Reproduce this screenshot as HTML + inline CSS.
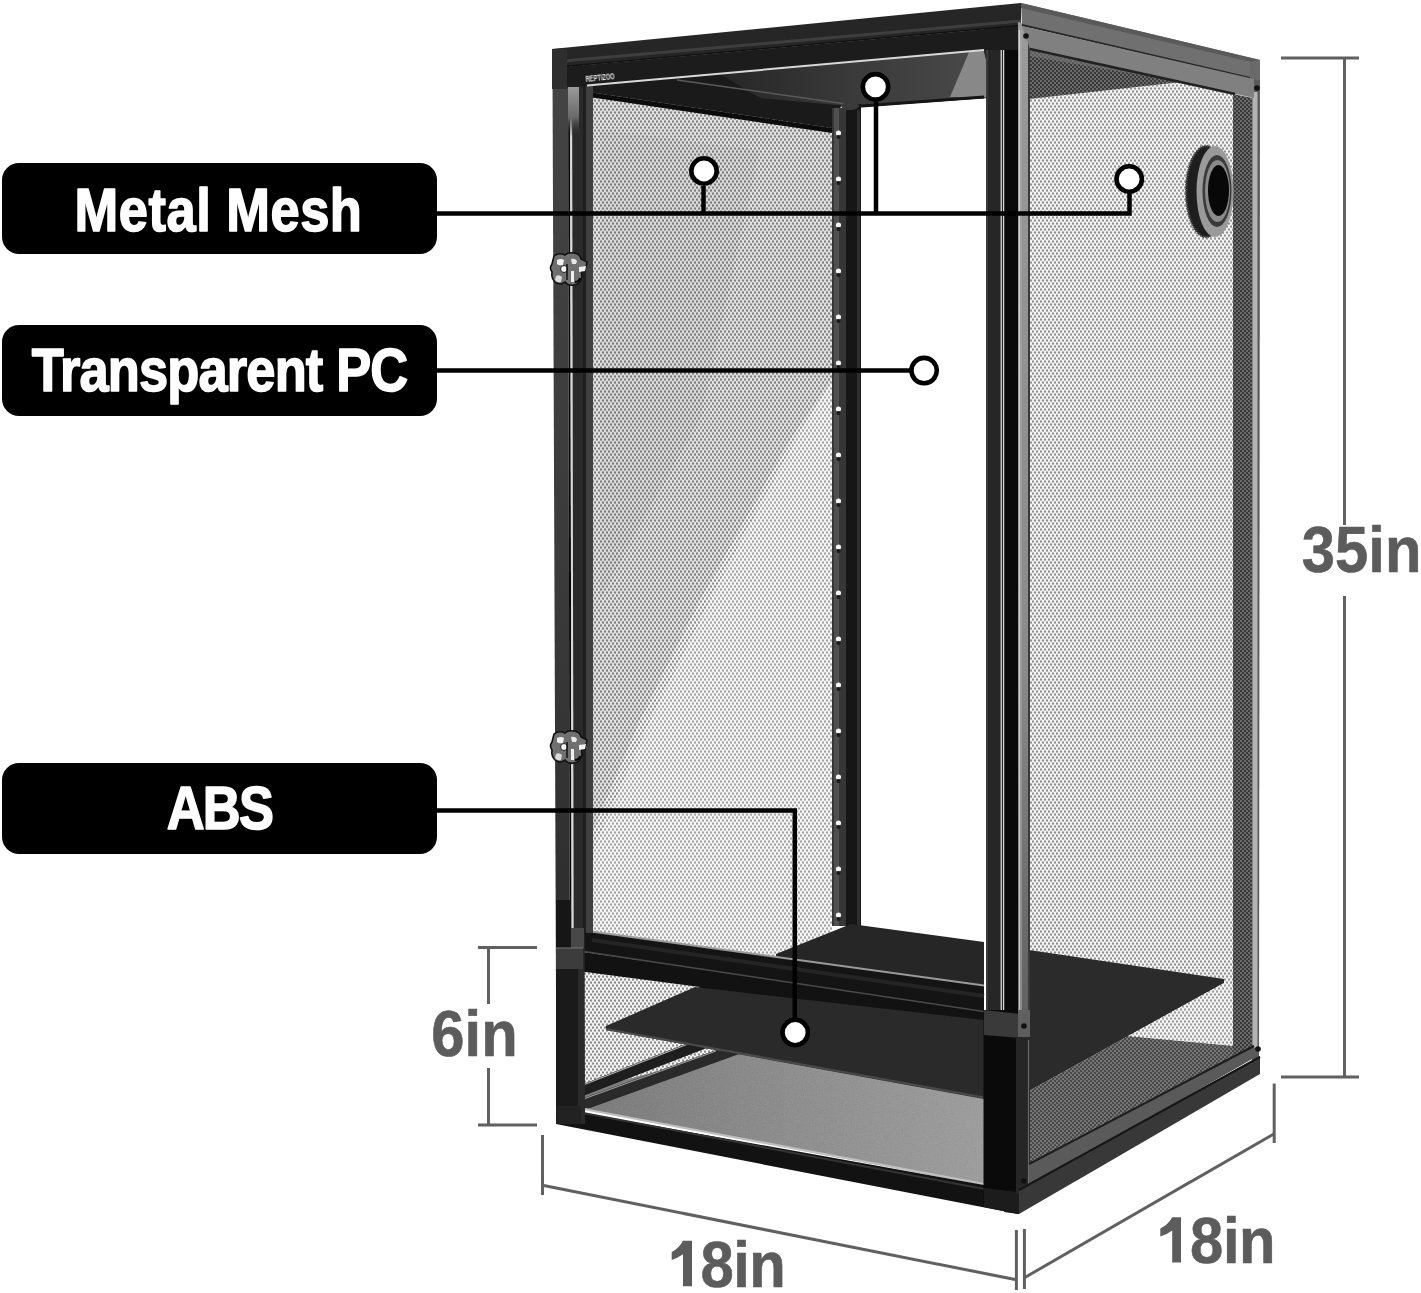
<!DOCTYPE html>
<html><head><meta charset="utf-8">
<style>
html,body{margin:0;padding:0;background:#fff;}
body{width:1421px;height:1293px;position:relative;overflow:hidden;font-family:"Liberation Sans",sans-serif;}
svg{position:absolute;left:0;top:0;}
</style></head>
<body>
<svg width="1421" height="1293" viewBox="0 0 1421 1293">
<defs>
  <pattern id="mesh" width="4" height="6" patternUnits="userSpaceOnUse">
    <rect width="4" height="6" fill="#f4f4f4"/>
    <ellipse cx="1" cy="1.5" rx="1.1" ry="1.35" fill="#8a8a8a"/>
    <ellipse cx="3" cy="4.5" rx="1.1" ry="1.35" fill="#8a8a8a"/>
  </pattern>
  <pattern id="meshD" width="4" height="4" patternUnits="userSpaceOnUse">
    <rect width="4" height="4" fill="#3a3a3a"/>
    <rect x="0" y="0" width="2" height="2" fill="#6a6a6a"/>
    <rect x="2" y="2" width="2" height="2" fill="#6a6a6a"/>
  </pattern>
</defs>
<rect width="1421" height="1293" fill="#fff"/>

<!-- TERRARIUM -->
<g id="terr">
<polygon points="589,88 832,125 832,962 589,962" fill="url(#mesh)"/>
<polygon points="589,88 832,125 832,380 790,440 700,600 640,720 589,840" fill="#000" opacity="0.07"/>
<polygon points="600,130 760,150 700,420 620,560 600,600" fill="#000" opacity="0.03"/>
<polygon points="832,380 832,962 589,962 589,860 650,720 720,580 790,450" fill="#fff" opacity="0.22"/>
<polygon points="587,85 987,50 987,98 860,107 842,104 832,128 589,92" fill="#1a1a1a"/>
<defs><linearGradient id="ceilg" x1="0" x2="1" y1="0" y2="0"><stop offset="0" stop-color="#262626"/><stop offset="0.55" stop-color="#3c3c3c"/><stop offset="1" stop-color="#4a4a4a"/></linearGradient></defs>
<polygon points="720,74 987,50 987,98 860,107 760,98" fill="url(#ceilg)"/>
<polygon points="969,52 987,50 987,97 950,97" fill="#888"/>
<line x1="848" y1="107" x2="984" y2="97" stroke="#151515" stroke-width="3"/>
<line x1="677" y1="80" x2="846" y2="104" stroke="#5a5a5a" stroke-width="1.5"/>
<polygon points="589,92 832,128 832,133 589,97" fill="#0c0c0c"/>
<rect x="832" y="108" width="14" height="818" fill="#363636"/>
<rect x="834" y="108" width="5" height="818" fill="#5a5a5a" opacity="0.7"/>
<rect x="846" y="104" width="15" height="822" fill="#161616"/>
<rect x="857" y="110" width="3" height="816" fill="#2e2e2e"/>
<ellipse cx="850" cy="106" rx="9" ry="4" fill="#3a3a3a"/>
<circle cx="838.5" cy="133" r="2.6" fill="#f4f4f4"/>
<circle cx="838.5" cy="137" r="2" fill="#1a1a1a"/>
<circle cx="838.5" cy="179" r="2.6" fill="#f4f4f4"/>
<circle cx="838.5" cy="183" r="2" fill="#1a1a1a"/>
<circle cx="838.5" cy="225" r="2.6" fill="#f4f4f4"/>
<circle cx="838.5" cy="229" r="2" fill="#1a1a1a"/>
<circle cx="838.5" cy="271" r="2.6" fill="#f4f4f4"/>
<circle cx="838.5" cy="275" r="2" fill="#1a1a1a"/>
<circle cx="838.5" cy="317" r="2.6" fill="#f4f4f4"/>
<circle cx="838.5" cy="321" r="2" fill="#1a1a1a"/>
<circle cx="838.5" cy="363" r="2.6" fill="#f4f4f4"/>
<circle cx="838.5" cy="367" r="2" fill="#1a1a1a"/>
<circle cx="838.5" cy="409" r="2.6" fill="#f4f4f4"/>
<circle cx="838.5" cy="413" r="2" fill="#1a1a1a"/>
<circle cx="838.5" cy="455" r="2.6" fill="#f4f4f4"/>
<circle cx="838.5" cy="459" r="2" fill="#1a1a1a"/>
<circle cx="838.5" cy="501" r="2.6" fill="#f4f4f4"/>
<circle cx="838.5" cy="505" r="2" fill="#1a1a1a"/>
<circle cx="838.5" cy="547" r="2.6" fill="#f4f4f4"/>
<circle cx="838.5" cy="551" r="2" fill="#1a1a1a"/>
<circle cx="838.5" cy="593" r="2.6" fill="#f4f4f4"/>
<circle cx="838.5" cy="597" r="2" fill="#1a1a1a"/>
<circle cx="838.5" cy="639" r="2.6" fill="#f4f4f4"/>
<circle cx="838.5" cy="643" r="2" fill="#1a1a1a"/>
<circle cx="838.5" cy="685" r="2.6" fill="#f4f4f4"/>
<circle cx="838.5" cy="689" r="2" fill="#1a1a1a"/>
<circle cx="838.5" cy="731" r="2.6" fill="#f4f4f4"/>
<circle cx="838.5" cy="735" r="2" fill="#1a1a1a"/>
<circle cx="838.5" cy="777" r="2.6" fill="#f4f4f4"/>
<circle cx="838.5" cy="781" r="2" fill="#1a1a1a"/>
<circle cx="838.5" cy="823" r="2.6" fill="#f4f4f4"/>
<circle cx="838.5" cy="827" r="2" fill="#1a1a1a"/>
<circle cx="838.5" cy="869" r="2.6" fill="#f4f4f4"/>
<circle cx="838.5" cy="873" r="2" fill="#1a1a1a"/>
<circle cx="838.5" cy="915" r="2.6" fill="#f4f4f4"/>
<circle cx="838.5" cy="919" r="2" fill="#1a1a1a"/>
<polygon points="776,954 851,924 984,942 984,995 776,995" fill="#262626"/>
<polygon points="578,930 984,985 984,1012 578,951" fill="#141414"/>
<line x1="584" y1="930.4" x2="984" y2="985.5" stroke="#9a9a9a" stroke-width="2"/>
<line x1="592" y1="940" x2="984" y2="996" stroke="#242424" stroke-width="4"/>
<polygon points="556,948 984,1010 1019,1014 1019,1037 984,1030 556,969" fill="#121212"/>
<line x1="584" y1="951.5" x2="984" y2="1011.5" stroke="#4a4a4a" stroke-width="1.5"/>
<defs><filter id="noise" x="0" y="0" width="100%" height="100%"><feTurbulence type="fractalNoise" baseFrequency="0.9" numOctaves="2" seed="3"/><feColorMatrix type="saturate" values="0"/><feComponentTransfer><feFuncA type="table" tableValues="0 0.35"/></feComponentTransfer><feComposite in2="SourceGraphic" operator="in"/></filter></defs>
<defs><linearGradient id="subg" x1="0" x2="1" y1="0" y2="0"><stop offset="0" stop-color="#747474"/><stop offset="0.5" stop-color="#888"/><stop offset="1" stop-color="#9a9a9a"/></linearGradient></defs>
<polygon points="578,1040 740,1052 984,1096 984,1185 578,1108" fill="url(#subg)"/>
<polygon points="578,1040 740,1052 984,1096 984,1185 578,1108" fill="#fff" filter="url(#noise)" opacity="0.6"/>
<polygon points="578,971 700,987 606,1027 700,1040 740,1050 578,1092" fill="url(#mesh)"/>
<polygon points="578,1086 688,1043 712,1046 578,1098" fill="#1e1e1e"/>
<polygon points="578,1100 716,1050 742,1053 590,1108 578,1108" fill="#2a2a2a"/>
<line x1="578" y1="1087" x2="688" y2="1044" stroke="#b0b0b0" stroke-width="1.2"/>
<line x1="578" y1="1101" x2="716" y2="1051" stroke="#9a9a9a" stroke-width="1.2"/>
<polygon points="606,1026 695,987 984,1020 984,1099 606,1030" fill="#2a2a2a"/>
<line x1="606" y1="1029" x2="984" y2="1097.5" stroke="#4a4a4a" stroke-width="2"/>
<line x1="578" y1="1108" x2="984" y2="1184" stroke="#c0c0c0" stroke-width="2.2"/>
<polygon points="556,1108 984,1185 1019,1190 1018,1214 556,1124" fill="#121212"/>
<line x1="578" y1="1112" x2="984" y2="1189" stroke="#333" stroke-width="2"/>
<defs><linearGradient id="postg" x1="0" x2="0" y1="0" y2="1"><stop offset="0" stop-color="#444"/><stop offset="0.5" stop-color="#3a3a3a"/><stop offset="1" stop-color="#262626"/></linearGradient></defs>
<polygon points="552.4,49 568,48 570,1124 556.5,1124" fill="url(#postg)"/>
<polygon points="568,48 570,48 572,1124 570,1124" fill="#080808"/>
<polygon points="570,48 572,48 574,1124 572,1124" fill="#d8d8d8"/>
<polygon points="572,48 583,48 585,1124 574,1124" fill="#2a2a2a"/>
<polygon points="583,86 593,86 593,933 583,933" fill="#404040"/>
<polygon points="583,86 586,86 586,933 583,933" fill="#1e1e1e"/>
<rect x="556" y="900" width="15" height="48" fill="#161616"/>
<rect x="571" y="928" width="13" height="20" fill="#484848"/>
<rect x="556" y="948" width="27" height="21" fill="#3c3c3c"/>
<line x1="556" y1="948" x2="583" y2="948" stroke="#777" stroke-width="1"/>
<rect x="556" y="969" width="22" height="140" fill="#1a1a1a"/>
<rect x="556" y="1106" width="25" height="18" fill="#222"/>
<polygon points="983.5,25 1002,25 1002,1207 986,1207 986,60 983.5,50" fill="#262626"/>
<polygon points="986,45 988,45 988,1010 986,1010" fill="#3a3a3a"/>
<polygon points="1000.6,26 1004.2,26 1004.2,1010 1000.6,1010" fill="#d8d8d8"/>
<polygon points="1001.9,26 1002.9,26 1002.9,1010 1001.9,1010" fill="#111"/>
<polygon points="1004.2,24 1020,24 1019,1214 1004.2,1212" fill="#0a0a0a"/>
<polygon points="983.5,1010 1006,1010 1006,1209 983.5,1206" fill="#0a0a0a"/>
<polygon points="984,1010 1021,1014 1021,1038 984,1035" fill="#3a3a3a"/>
<polygon points="984,1188 1019,1192 1019,1214 984,1207" fill="#1c1c1c"/>
<polygon points="552,49 1021,3 1021,26 552,68" fill="#262626"/>
<line x1="552" y1="62" x2="1021" y2="21" stroke="#3e3e3e" stroke-width="3"/>
<line x1="552" y1="67.5" x2="1021" y2="25.5" stroke="#111" stroke-width="1.5"/>
<polygon points="552,68 1021,26 1021,50 984,50 587,86 552,89" fill="#1c1c1c"/>
<line x1="587" y1="85.5" x2="984" y2="50" stroke="#d8d8d8" stroke-width="2"/>
<rect x="552" y="49" width="15" height="40" fill="#2e2e2e"/>
<g opacity="0.98" style="will-change:transform"><text x="586" y="82" font-family="Liberation Sans" font-weight="bold" font-size="8.5" fill="#e8e8e8" textLength="29" lengthAdjust="spacingAndGlyphs" transform="rotate(-6 586 82)">REPTIZOO</text></g>
<defs><linearGradient id="silv" x1="0" x2="0" y1="0" y2="1"><stop offset="0" stop-color="#9a9a9a"/><stop offset="0.6" stop-color="#6a6a6a"/><stop offset="1" stop-color="#2a2a2a" stop-opacity="0"/></linearGradient></defs>
<rect x="568" y="87" width="11" height="50" fill="url(#silv)"/>
<polygon points="1029,49 1235,94 1254,98 1254,1046 1029,1164" fill="url(#mesh)"/>
<polygon points="1029,49 1235,94 1254,98 1254,1046 1029,1164" fill="#fff" opacity="0.06"/>
<polygon points="1029,49 1181,82 1029,99" fill="url(#meshD)"/>
<polygon points="1029,49 1181,82 1029,56" fill="#777" opacity="0.6"/>
<polygon points="1029,950 1224,979 1224,983 1029,1091" fill="#2b2b2b"/>
<polygon points="1029,1091 1128,1036 1235,1046 1235,1056 1029,1164" fill="url(#meshD)"/>
<polygon points="1029,1091 1128,1036 1235,1046 1235,1056 1029,1164" fill="#fff" opacity="0.08"/>
<polygon points="1128,1036 1224,983 1235,984 1235,1046" fill="url(#mesh)"/>
<polygon points="1128,1036 1224,983 1235,984 1235,1046" fill="#fff" opacity="0.15"/>
<polygon points="1233,94 1252,98 1252,1047 1233,1057" fill="url(#meshD)"/>
<polygon points="1252,62 1260,60 1259,1074 1252,1076" fill="#5a5a5a"/>
<polygon points="1252.5,92 1257.5,92 1257.5,1048 1252.5,1048" fill="#b4b4b4"/>
<defs><linearGradient id="spost" x1="0" x2="0" y1="0" y2="1"><stop offset="0" stop-color="#9a9a9a"/><stop offset="0.55" stop-color="#8a8a8a"/><stop offset="0.85" stop-color="#606060"/><stop offset="1" stop-color="#3a3a3a"/></linearGradient></defs>
<polygon points="1018,22 1030,25 1030,1190 1018,1194" fill="url(#spost)"/>
<polygon points="1028,40 1030,40 1030,1010 1028,1010" fill="#3a3a3a"/>
<line x1="1019.3" y1="30" x2="1019.3" y2="1010" stroke="#e0e0e0" stroke-width="1"/>
<polygon points="1016,1037 1030,1037 1030,1190 1016,1194" fill="#262626"/>
<line x1="1021" y1="30" x2="1021" y2="1010" stroke="#a8a8a8" stroke-width="1.2"/>
<line x1="1028.5" y1="1040" x2="1028.5" y2="1188" stroke="#6a6a6a" stroke-width="1.2"/>
<polygon points="1021,3 1260,60 1260,80 1022,25" fill="#707070"/>
<polygon points="1021,3 1260,60 1260,64 1021,8" fill="#5a5a5a"/>
<line x1="1022" y1="25" x2="1250" y2="78" stroke="#262626" stroke-width="2"/>
<polygon points="1250,62 1260,60 1260,80 1250,79" fill="#6a6a6a"/>
<polygon points="1022,26 1254,79 1254,98 1030,49" fill="#808080"/>
<line x1="1030" y1="49" x2="1235" y2="94" stroke="#222" stroke-width="2.5"/>
<polygon points="1029,1163 1254,1045 1254,1058 1029,1187" fill="#5a5a5a"/>
<line x1="1029" y1="1164" x2="1254" y2="1046" stroke="#1e1e1e" stroke-width="2"/>
<polygon points="1019,1189 1260,1056 1260,1074 1019,1214" fill="#383838"/>
<line x1="1019" y1="1190" x2="1260" y2="1057" stroke="#161616" stroke-width="2"/>
<circle cx="1026" cy="36" r="2.8" fill="#111"/>
<circle cx="1257" cy="88" r="2.8" fill="#111"/>
<circle cx="1024" cy="1026" r="2.8" fill="#111"/>
<circle cx="1258" cy="1049" r="2.8" fill="#111"/>
<circle cx="1024" cy="1181" r="2.8" fill="#111"/>
<ellipse cx="1206" cy="191.5" rx="20.5" ry="46" fill="#1e1e1e"/>
<ellipse cx="1206" cy="191.5" rx="20" ry="45.5" fill="none" stroke="#555" stroke-width="2.5" stroke-dasharray="1.2 1.2"/>
<ellipse cx="1215" cy="191.5" rx="18.5" ry="45.5" fill="#9a9a9a"/>
<ellipse cx="1217" cy="191" rx="14.5" ry="36" fill="#3a3a3a"/>
<ellipse cx="1217.5" cy="191" rx="12.5" ry="31" fill="#8a8a8a"/>
<ellipse cx="1218.5" cy="190.5" rx="10.5" ry="25.5" fill="#080808"/>
<g transform="translate(569 270)"><path d="M-15,-14 q5,-4 11,-1 q3,-3 9,-2 q6,1 7,6 l6,3 l-1,5 l-5,1 l1,8 q-1,8 -8,9 q-6,1 -9,-3 q-5,4 -10,0 q-4,-4 -3,-10 q-3,-4 0,-8 z" fill="#707070" stroke="#111" stroke-width="1.6"/><path d="M-12,-10 q4,-2 7,0 l-1,5 q-4,1 -6,-1 z" fill="#f0f0f0"/><circle cx="-5" cy="-1" r="3.5" fill="#f4f4f4" stroke="#222" stroke-width="1"/><path d="M2,-11 q4,-1 6,2 l-1,3 l-4,0 z" fill="#e8e8e8"/><path d="M10,-3 l7,-1 l-1,5 l-6,1 z" fill="#f2f2f2"/><rect x="2" y="1" width="3" height="11" fill="#f0f0f0"/><path d="M-13,6 q3,-2 6,1 l-1,5 q-4,1 -6,-2 z" fill="#dcdcdc"/><path d="M6,12 q4,0 5,-4" stroke="#000" stroke-width="2" fill="none"/><path d="M-2,-6 l0,16" stroke="#111" stroke-width="1.5"/></g>
<g transform="translate(569 748)"><path d="M-15,-14 q5,-4 11,-1 q3,-3 9,-2 q6,1 7,6 l6,3 l-1,5 l-5,1 l1,8 q-1,8 -8,9 q-6,1 -9,-3 q-5,4 -10,0 q-4,-4 -3,-10 q-3,-4 0,-8 z" fill="#707070" stroke="#111" stroke-width="1.6"/><path d="M-12,-10 q4,-2 7,0 l-1,5 q-4,1 -6,-1 z" fill="#f0f0f0"/><circle cx="-5" cy="-1" r="3.5" fill="#f4f4f4" stroke="#222" stroke-width="1"/><path d="M2,-11 q4,-1 6,2 l-1,3 l-4,0 z" fill="#e8e8e8"/><path d="M10,-3 l7,-1 l-1,5 l-6,1 z" fill="#f2f2f2"/><rect x="2" y="1" width="3" height="11" fill="#f0f0f0"/><path d="M-13,6 q3,-2 6,1 l-1,5 q-4,1 -6,-2 z" fill="#dcdcdc"/><path d="M6,12 q4,0 5,-4" stroke="#000" stroke-width="2" fill="none"/><path d="M-2,-6 l0,16" stroke="#111" stroke-width="1.5"/></g>
</g>

<!-- LABELS -->
<g id="labels">
  <rect x="2" y="163" width="435" height="91" rx="17" fill="#000"/>
  <rect x="2" y="325" width="435" height="91" rx="17" fill="#000"/>
  <rect x="2" y="763" width="435" height="91" rx="17" fill="#000"/>
  <g font-family="Liberation Sans" font-weight="bold" fill="#fff" stroke="#fff" stroke-width="1.6" stroke-linejoin="round" font-size="61">
    <text transform="translate(218.5 230.5) scale(0.86 1)" text-anchor="middle" letter-spacing="0.6">Metal Mesh</text>
    <text transform="translate(219.5 390.5) scale(0.86 1)" text-anchor="middle" letter-spacing="-1">Transparent PC</text>
    <text transform="translate(219.5 829) scale(0.86 1)" text-anchor="middle" letter-spacing="-2">ABS</text>
  </g>
  <!-- callout lines -->
  <g stroke="#000" stroke-width="4.5" fill="none">
    <polyline points="437,213.4 1129.5,213.4 1129.5,193"/>
    <line x1="703.5" y1="213.4" x2="703.5" y2="186"/>
    <line x1="876" y1="213.4" x2="876" y2="101"/>
    <line x1="437" y1="370.5" x2="910" y2="370.5"/>
    <polyline points="437,810.5 794.8,810.5 794.8,1018"/>
  </g>
  <g stroke="#000" stroke-width="4.6" fill="#fff">
    <circle cx="704" cy="171" r="12.7"/>
    <circle cx="875.5" cy="86.8" r="12.7"/>
    <circle cx="1129.2" cy="179" r="12.7"/>
    <circle cx="924.1" cy="370.6" r="12.7"/>
    <circle cx="795.2" cy="1032.5" r="12.7"/>
  </g>
</g>

<!-- DIMENSIONS -->
<g id="dims" stroke="#606060" stroke-width="3" fill="none">
  <line x1="1281" y1="58" x2="1359" y2="58"/>
  <line x1="1344.5" y1="58" x2="1344.5" y2="525"/>
  <line x1="1344.5" y1="596" x2="1344.5" y2="1077"/>
  <line x1="1281" y1="1077" x2="1359" y2="1077"/>

  <line x1="478" y1="947.5" x2="537" y2="947.5"/>
  <line x1="488.5" y1="947.5" x2="488.5" y2="1004"/>
  <line x1="488.5" y1="1068" x2="488.5" y2="1125"/>
  <line x1="478" y1="1125" x2="537" y2="1125"/>

  <line x1="542.5" y1="1135" x2="542.5" y2="1195"/>
  <line x1="542.5" y1="1185.3" x2="1016.4" y2="1279.8"/>
  <line x1="1016.4" y1="1230" x2="1016.4" y2="1290"/>
  <line x1="1024.4" y1="1229" x2="1024.4" y2="1289"/>
  <line x1="1024.4" y1="1277.7" x2="1274.2" y2="1133.7"/>
  <line x1="1274.2" y1="1083.6" x2="1274.2" y2="1143"/>
</g>
<g font-family="Liberation Sans" font-weight="bold" fill="#5c5c5c" stroke="#5c5c5c" stroke-width="0.6" stroke-linejoin="round" font-size="65">
  <text transform="translate(1361.6 572.2) scale(0.92 1)" text-anchor="middle" letter-spacing="0">35in</text>
  <text transform="translate(474.5 1055.5) scale(0.92 1)" text-anchor="middle" letter-spacing="0">6in</text>
  <text transform="translate(1190 1262.8) scale(0.92 1)" text-anchor="start" letter-spacing="-0.4">8in</text>
  <text transform="translate(700.5 1286.6) scale(0.92 1)" text-anchor="start" letter-spacing="-0.6">8in</text>
</g>
<g fill="#5c5c5c">
  <path d="M1172.2,1217.3 L1181,1217.3 L1181,1262.5 L1172.2,1262.5 L1172.2,1230.5 Q1167,1234.5 1160.3,1236.5 L1160.3,1228.6 Q1168,1225 1172.2,1217.3 Z"/>
  <path d="M683,1240.8 L692,1240.8 L692,1286.2 L683,1286.2 L683,1254.2 Q677.5,1258 671.7,1260 L671.7,1252 Q679,1248.5 683,1240.8 Z"/>
</g>
</svg>
</body></html>
